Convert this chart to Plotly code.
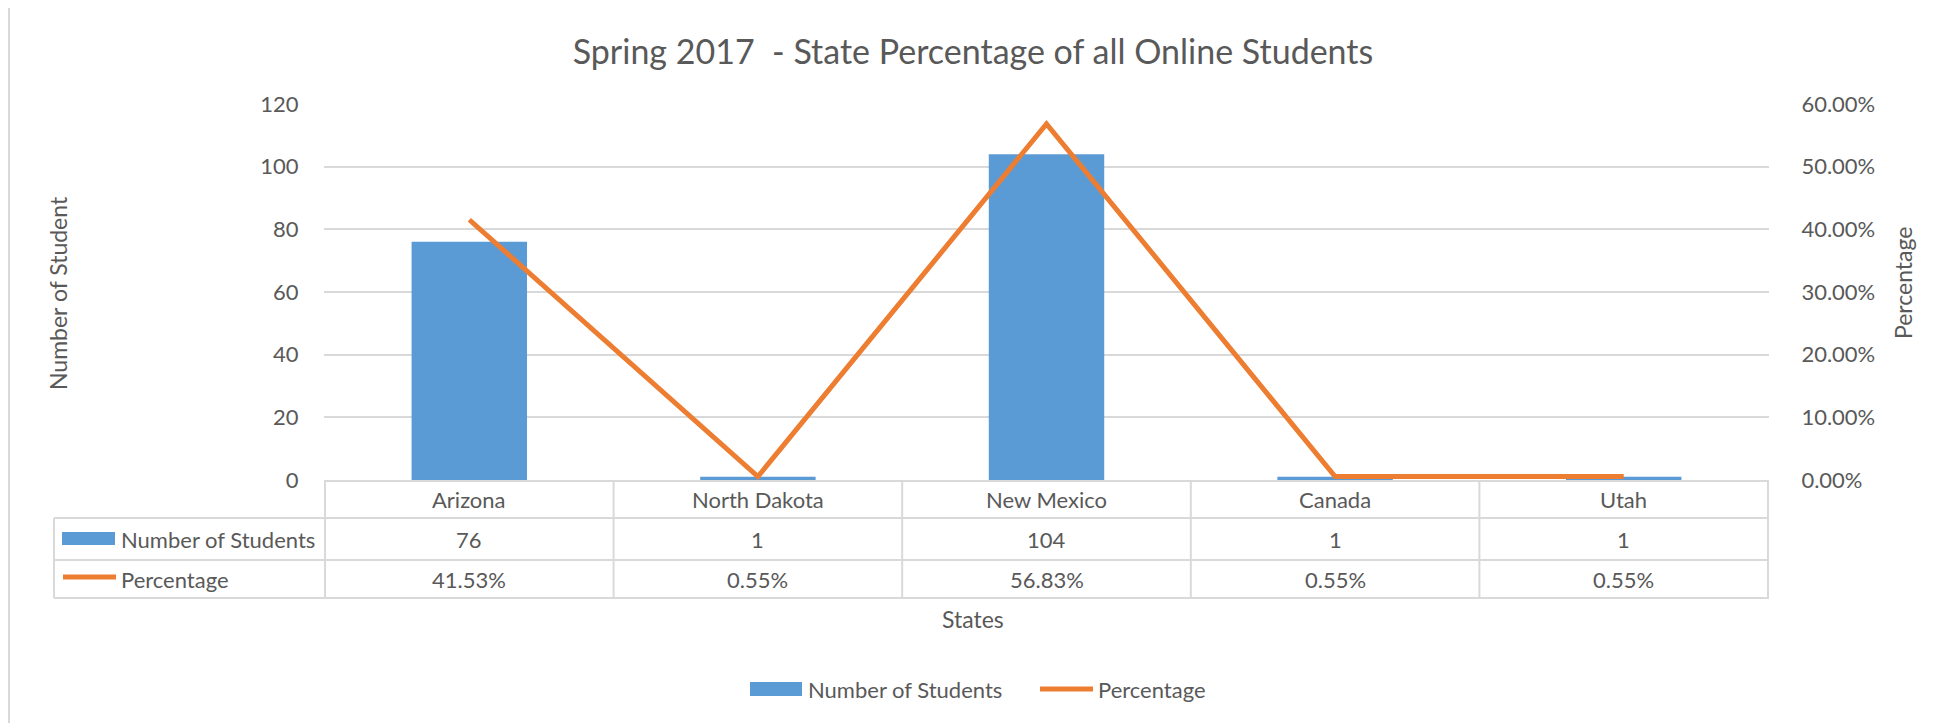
import plotly.graph_objects as go

# data
states = ["Arizona", "North Dakota", "New Mexico", "Canada", "Utah"]
students = [76, 1, 104, 1, 1]
percentage = [0.4153, 0.0055, 0.5683, 0.0055, 0.0055]

BLUE = "#5B9BD5"
ORANGE = "#ED7D31"
TXT = "#595959"
GRID = "#D9D9D9"
FONT = "Lato, 'Open Sans', sans-serif"

OFF = 8  # the page body margin shifts the plot by this much
W, H = 1937 - OFF, 723 - OFF
L, R, T, B = 324, 1769, 104, 480  # plot area in screen pixels


def px(x):
    return (x - L) / (R - L)


def py(y):
    return (B - y) / (B - T)


fig = go.Figure()
fig.add_trace(go.Bar(x=states, y=students, name="Number of Students",
                     marker=dict(color=BLUE, line=dict(width=0)), width=0.4))
fig.add_trace(go.Scatter(x=states, y=percentage, name="Percentage", yaxis="y2",
                         mode="lines", line=dict(color=ORANGE, width=5)))

shapes = []
ann = []

# data table under the plot
for yy in [518, 560, 598]:
    shapes.append(dict(type="line", xref="paper", yref="paper", x0=px(54), x1=1,
                       y0=py(yy), y1=py(yy), line=dict(color=GRID, width=2)))
for i in range(len(states) + 1):
    shapes.append(dict(type="line", xref="x", yref="paper", x0=i - 0.5, x1=i - 0.5,
                       y0=0, y1=py(598), line=dict(color=GRID, width=2)))
shapes.append(dict(type="line", xref="paper", yref="paper", x0=px(54), x1=px(54),
                   y0=py(518), y1=py(598), line=dict(color=GRID, width=2)))

for s, n, p in zip(states, students, percentage):
    ann.append(dict(x=s, y=py(499), xref="x", yref="paper", text=s, showarrow=False,
                    yanchor="middle"))
    ann.append(dict(x=s, y=py(539), xref="x", yref="paper", text=str(n), showarrow=False,
                    yanchor="middle"))
    ann.append(dict(x=s, y=py(579), xref="x", yref="paper", text=f"{p:.2%}", showarrow=False,
                    yanchor="middle"))

# legend keys inside table
shapes.append(dict(type="rect", xref="paper", yref="paper", x0=px(62), x1=px(115),
                   y0=py(532), y1=py(545), fillcolor=BLUE, line=dict(width=0)))
shapes.append(dict(type="line", xref="paper", yref="paper", x0=px(63), x1=px(116),
                   y0=py(577), y1=py(577), line=dict(color=ORANGE, width=5)))
ann.append(dict(x=px(119), y=py(539), xref="paper", yref="paper", text="Number of Students",
                showarrow=False, xanchor="left", yanchor="middle"))
ann.append(dict(x=px(119), y=py(579), xref="paper", yref="paper", text="Percentage",
                showarrow=False, xanchor="left", yanchor="middle"))

# bottom legend
shapes.append(dict(type="rect", xref="paper", yref="paper", x0=px(750), x1=px(802),
                   y0=py(682), y1=py(696), fillcolor=BLUE, line=dict(width=0)))
shapes.append(dict(type="line", xref="paper", yref="paper", x0=px(1040), x1=px(1093),
                   y0=py(689), y1=py(689), line=dict(color=ORANGE, width=5)))
ann.append(dict(x=px(806), y=py(689), xref="paper", yref="paper", text="Number of Students",
                showarrow=False, xanchor="left", yanchor="middle"))
ann.append(dict(x=px(1096), y=py(689), xref="paper", yref="paper", text="Percentage",
                showarrow=False, xanchor="left", yanchor="middle"))

# axis titles
ann.append(dict(x=px(58), y=py(293), xref="paper", yref="paper", text="Number of Student",
                textangle=-90, showarrow=False, xanchor="center", yanchor="middle",
                font=dict(size=23)))
ann.append(dict(x=px(1903), y=py(283), xref="paper", yref="paper", text="Percentage",
                textangle=-90, showarrow=False, xanchor="center", yanchor="middle",
                font=dict(size=23)))
ann.append(dict(x=px(973), y=py(619), xref="paper", yref="paper", text="States",
                showarrow=False, xanchor="center", yanchor="middle", font=dict(size=23)))

# chart frame
shapes.append(dict(type="line", xref="paper", yref="paper", x0=px(9), x1=px(1912),
                   y0=py(5), y1=py(5), line=dict(color=GRID, width=3)))
shapes.append(dict(type="line", xref="paper", yref="paper", x0=px(9), x1=px(9),
                   y0=py(5), y1=py(723), line=dict(color=GRID, width=2)))
shapes.append(dict(type="line", xref="paper", yref="paper", x0=px(1913), x1=px(1913),
                   y0=py(0), y1=py(6), line=dict(color=GRID, width=2)))

fig.update_layout(
    width=W, height=H,
    margin=dict(l=L - OFF, r=1937 - R, t=T - OFF, b=723 - B, pad=0),
    paper_bgcolor="white", plot_bgcolor="white",
    font=dict(family=FONT, size=22, color=TXT),
    title=dict(text="Spring 2017  - State Percentage of all Online Students",
               xref="container", yref="container", x=(973 - OFF) / W, y=1 - (52 - OFF) / H,
               xanchor="center", yanchor="middle",
               font=dict(family=FONT, size=34, color=TXT)),
    showlegend=False,
    bargap=0.6,
    xaxis=dict(showticklabels=False, showgrid=False, zeroline=False,
               showline=True, linecolor=GRID, linewidth=2, ticks=""),
    yaxis=dict(range=[0, 120], dtick=20, showgrid=True, gridcolor=GRID, gridwidth=2,
               zeroline=False, showline=False, ticks="outside", ticklen=20,
               tickcolor="rgba(0,0,0,0)", tickfont=dict(size=22, color=TXT)),
    yaxis2=dict(range=[0, 0.6], dtick=0.1, tickformat=".2%", overlaying="y", side="right",
                showgrid=False, zeroline=False, showline=False, ticks="outside", ticklen=27,
                tickcolor="rgba(0,0,0,0)", tickfont=dict(size=22, color=TXT)),
    shapes=shapes,
    annotations=ann,
)

fig.write_html("out.html")
